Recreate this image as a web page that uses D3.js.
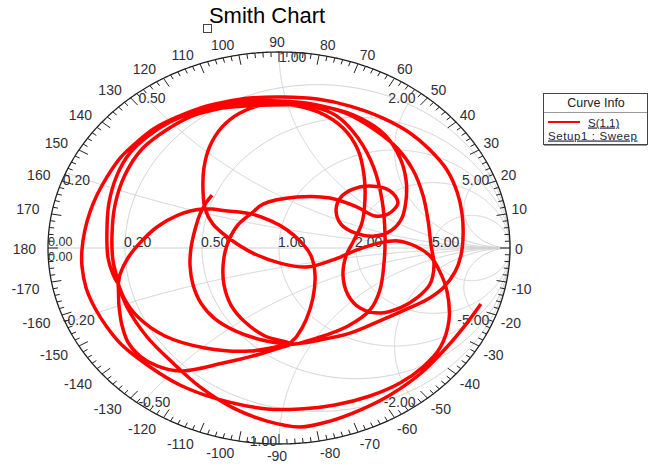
<!DOCTYPE html>
<html>
<head>
<meta charset="utf-8">
<script src="https://cdn.jsdelivr.net/npm/d3@7"></script>
<style>
  html, body { margin: 0; padding: 0; background: #fff; }
  svg { display: block; font-family: "Liberation Sans", Arial, sans-serif; }
</style>
</head>
<body>
<svg id="chart" width="649" height="466"></svg>
<script>
// ---- grid definitions ----
const resistanceValues = [0.2, 0.5, 1, 2, 5];
const resistanceLabels = ["0.20", "0.50", "1.00", "2.00", "5.00"];
const reactanceValues = [0.2, 0.5, 1, 2, 5, -0.2, -0.5, -1, -2, -5];
const reactanceLabels = ["0.20", "0.50", "1.00", "2.00", "5.00", "-0.20", "-0.50", "-1.00", "-2.00", "-5.00"];
const angleTicks = d3.range(-170, 181, 10);

// ---- legend text ----
const chartTitle = "Smith Chart";
const legendTitle = "Curve Info";
const traceName = "S(1,1)";
const sweepName = "Setup1 : Sweep";

// ---- S(1,1) reflection coefficient [Re, Im] along the sweep ----
const s11Gamma = [
  [-0.290,0.270],[-0.316,0.230],[-0.342,0.173],[-0.364,0.092],[-0.381,0.000],[-0.385,-0.092],
  [-0.372,-0.189],[-0.338,-0.281],[-0.277,-0.362],[-0.190,-0.423],[-0.074,-0.469],[0.048,-0.490],
  [0.177,-0.469],[0.307,-0.434],[0.424,-0.378],[0.545,-0.316],[0.645,-0.260],[0.710,-0.204],
  [0.762,-0.122],[0.788,-0.036],[0.797,0.066],[0.792,0.179],[0.771,0.286],[0.727,0.398],
  [0.654,0.500],[0.567,0.587],[0.450,0.663],[0.307,0.724],[0.165,0.760],[0.017,0.770],
  [-0.126,0.765],[-0.234,0.745],[-0.342,0.714],[-0.442,0.668],[-0.537,0.612],[-0.615,0.541],
  [-0.688,0.459],[-0.745,0.362],[-0.788,0.270],[-0.818,0.184],[-0.840,0.092],[-0.853,-0.010],
  [-0.853,-0.092],[-0.835,-0.204],[-0.797,-0.306],[-0.745,-0.403],[-0.680,-0.495],[-0.558,-0.607],
  [-0.429,-0.699],[-0.268,-0.770],[-0.052,-0.821],[0.091,-0.821],[0.242,-0.801],[0.394,-0.755],
  [0.524,-0.689],[0.623,-0.607],[0.697,-0.510],[0.736,-0.367],[0.727,-0.219],[0.697,-0.122],
  [0.654,-0.041],[0.589,0.010],[0.515,0.036],[0.437,0.026],[0.338,-0.010],[0.234,-0.061],
  [0.121,-0.097],[0.004,-0.077],[-0.113,-0.026],[-0.212,0.046],[-0.286,0.122],[-0.320,0.199],
  [-0.329,0.296],[-0.325,0.408],[-0.299,0.520],[-0.247,0.617],[-0.169,0.689],[-0.074,0.730],
  [0.048,0.735],[0.156,0.719],[0.251,0.673],[0.342,0.561],[0.411,0.408],[0.446,0.245],
  [0.459,0.066],[0.455,-0.071],[0.437,-0.214],[0.394,-0.316],[0.299,-0.398],[0.165,-0.459],
  [0.048,-0.490],
  [0.078,-0.449],[0.117,-0.367],[0.147,-0.255],[0.156,-0.138],[0.139,-0.041],[0.095,0.031],
  [0.035,0.092],[-0.035,0.138],[-0.117,0.173],[-0.221,0.189],[-0.333,0.199],[-0.437,0.168],
  [-0.528,0.107],[-0.602,0.026],[-0.654,-0.051],[-0.688,-0.133],[-0.697,-0.179],
  [-0.719,-0.133],[-0.740,-0.051],[-0.745,0.082],[-0.736,0.230],[-0.701,0.372],[-0.645,0.485],
  [-0.567,0.571],[-0.472,0.643],[-0.364,0.694],[-0.247,0.730],[-0.126,0.750],
  [0.004,0.750],[0.143,0.735],[0.286,0.689],[0.416,0.602],[0.511,0.510],[0.580,0.398],
  [0.623,0.270],[0.645,0.143],[0.658,0.015],[0.671,-0.087],
  [0.654,-0.184],[0.597,-0.255],[0.524,-0.306],[0.437,-0.332],[0.351,-0.306],[0.299,-0.240],
  [0.277,-0.138],[0.290,-0.041],[0.325,0.041],[0.359,0.128],[0.372,0.245],[0.368,0.372],
  [0.342,0.500],[0.277,0.612],[0.169,0.694],[0.026,0.735],[-0.126,0.740],
  [-0.247,0.714],[-0.364,0.679],[-0.481,0.607],[-0.593,0.505],[-0.667,0.372],[-0.710,0.219],
  [-0.723,0.066],[-0.719,-0.061],[-0.697,-0.179],
  [-0.693,-0.291],[-0.680,-0.393],[-0.654,-0.480],[-0.602,-0.551],[-0.528,-0.602],[-0.429,-0.628],
  [-0.242,-0.587],[-0.082,-0.541],[0.048,-0.490],
  [-0.126,-0.526],[-0.320,-0.510],[-0.494,-0.449],[-0.615,-0.347],[-0.671,-0.255],[-0.697,-0.179],
  [-0.671,-0.255],[-0.615,-0.347],[-0.494,-0.449],[-0.320,-0.510],[-0.126,-0.526],[0.048,-0.490],
  [-0.061,-0.449],[-0.147,-0.378],[-0.208,-0.291],[-0.238,-0.189],[-0.242,-0.087],[-0.225,0.015],
  [-0.182,0.112],[-0.117,0.179],[-0.069,0.224],
  [0.078,0.260],[0.221,0.255],[0.338,0.209],[0.416,0.163],
  [0.472,0.173],[0.515,0.230],[0.481,0.291],[0.394,0.316],[0.320,0.301],[0.268,0.260],
  [0.247,0.194],[0.268,0.122],[0.329,0.077],[0.416,0.061],[0.489,0.092],[0.532,0.153],[0.550,0.245],
  [0.550,0.347],[0.524,0.459],[0.459,0.577],[0.351,0.663],[0.221,0.714],[0.091,0.730],
  [-0.039,0.730],[-0.147,0.724],[-0.247,0.714],
  [-0.364,0.679],[-0.481,0.607],[-0.593,0.505],[-0.667,0.372],[-0.710,0.219],[-0.723,0.066],
  [-0.719,-0.061],[-0.697,-0.179],
  [-0.658,-0.301],[-0.571,-0.454],[-0.459,-0.587],[-0.342,-0.709],[-0.199,-0.816],[-0.052,-0.883],
  [0.091,-0.913],[0.221,-0.883],[0.351,-0.827],[0.481,-0.750],[0.610,-0.643],[0.727,-0.505],
  [0.810,-0.388],[0.874,-0.286]
];

// ---- layout ----
const svg = d3.select("#chart");
const x = d3.scaleLinear().domain([-1, 1]).range([48, 510]);
const y = d3.scaleLinear().domain([-1, 1]).range([444, 52]);
const toPath = d3.line().x(d => x(d[0])).y(d => y(d[1]));
const labelColor = "#2f2f3a";

// constant-resistance circle: z = r + jt
function resistanceCircle(r) {
  const c = r / (1 + r), R = 1 / (1 + r), pts = [];
  for (let i = 0; i <= 720; i++) {
    const a = i / 720 * 2 * Math.PI;
    pts.push([c + R * Math.cos(a), R * Math.sin(a)]);
  }
  return pts;
}
// constant-reactance arc: z = t + jx, t >= 0
function reactanceArc(xv) {
  const pts = [];
  for (let i = 0; i <= 600; i++) {
    const t = Math.tan(i / 600 * Math.PI / 2 * 0.9995);
    const D = (t + 1) * (t + 1) + xv * xv;
    pts.push([(t * t + xv * xv - 1) / D, 2 * xv / D]);
  }
  return pts;
}
function gammaAtZeroR(xv) {
  const D = 1 + xv * xv;
  return [(xv * xv - 1) / D, 2 * xv / D];
}

// grid
const grid = svg.append("g").attr("fill", "none").attr("stroke", "#d2d2d2").attr("stroke-width", 1);
resistanceValues.forEach(r => grid.append("path").attr("d", toPath(resistanceCircle(r))));
reactanceValues.forEach(v => grid.append("path").attr("d", toPath(reactanceArc(v))));
grid.append("line").attr("x1", x(-1)).attr("x2", x(1)).attr("y1", y(0)).attr("y2", y(0));

// outer boundary
svg.append("path").attr("d", toPath(resistanceCircle(0)))
  .attr("fill", "none").attr("stroke", "#222").attr("stroke-width", 1.3);

// angle ticks
const ticks = svg.append("g").attr("stroke", "#222").attr("stroke-width", 1);
d3.range(0, 360, 2).forEach(deg => {
  const th = deg * Math.PI / 180;
  const px = x(Math.cos(th)), py = y(Math.sin(th));
  const vx = x(0) - px, vy = y(0) - py, L = Math.hypot(vx, vy);
  const len = deg % 10 === 0 ? 10 : 5;
  ticks.append("line").attr("x1", px).attr("y1", py)
    .attr("x2", px + vx / L * len).attr("y2", py + vy / L * len);
});

// angle labels
const angG = svg.append("g").attr("font-size", "14px").attr("fill", labelColor);
angleTicks.forEach(a => {
  const th = a * Math.PI / 180, c = Math.cos(th), s = Math.sin(th);
  const px = x(c), py = y(s);
  let anchor, tx;
  if (Math.abs(c) < 0.01) { anchor = "middle"; tx = px - 2; }
  else if (c < 0) { anchor = "end"; tx = px + 9 * c - 3; }
  else { anchor = "start"; tx = px + 5 * c; }
  const sg = Math.abs(s) < 0.01 ? 0 : Math.sign(s);
  const ty = py - sg * 5 - 6 * s + 1.5;
  angG.append("text").attr("x", tx).attr("y", ty).attr("dy", "0.35em")
    .attr("text-anchor", anchor).text(String(a));
});

// resistance labels on the real axis
const gridLab = svg.append("g").attr("font-size", "14px").attr("fill", labelColor);
resistanceValues.forEach((r, i) => {
  gridLab.append("text").attr("x", x((r - 1) / (r + 1)) - 1).attr("y", y(0) - 1)
    .text(resistanceLabels[i]);
});
gridLab.append("text").attr("x", x(-1)).attr("y", y(0) - 2).attr("font-size", "12.5px").text("0.00");
gridLab.append("text").attr("x", x(-1)).attr("y", y(0) + 13).attr("font-size", "12.5px").text("0.00");

// reactance labels at the boundary
reactanceValues.forEach((v, i) => {
  const g = gammaAtZeroR(v);
  let anchor;
  if (g[0] < -0.01) anchor = "start";
  else if (g[0] > 0.01) anchor = "end";
  else anchor = v > 0 ? "start" : "end";
  const dx = Math.abs(g[0]) < 0.01 ? (v > 0 ? 0 : -2) : -2 - (Math.abs(v) === 0.2 || Math.abs(v) === 5 ? 1 : 0);
  const dy = v > 0 ? (Math.abs(v) === 1 ? 10 : 12) : 2;
  gridLab.append("text").attr("x", x(g[0]) + dx).attr("y", y(g[1]) + dy)
    .attr("text-anchor", anchor).text(reactanceLabels[i]);
});

// S(1,1) trace
svg.append("path").datum(s11Gamma)
  .attr("d", d3.line().x(d => x(d[0])).y(d => y(d[1])).curve(d3.curveCatmullRom.alpha(0.5)))
  .attr("fill", "none").attr("stroke", "#ff0000").attr("stroke-width", 3.5)
  .attr("stroke-linejoin", "round");

// title
svg.append("text").attr("x", 267).attr("y", 23).attr("text-anchor", "middle")
  .attr("font-size", "22px").attr("fill", "#000").text(chartTitle);
svg.append("rect").attr("x", 203.5).attr("y", 24.5).attr("width", 8).attr("height", 8)
  .attr("fill", "none").attr("stroke", "#444").attr("stroke-width", 1);

// legend
const lg = svg.append("g");
lg.append("rect").attr("x", 543.5).attr("y", 93.5).attr("width", 104).attr("height", 51)
  .attr("fill", "#fff").attr("stroke", "#444").attr("stroke-width", 1);
lg.append("line").attr("x1", 544).attr("x2", 647).attr("y1", 145.5).attr("y2", 145.5)
  .attr("stroke", "#999").attr("stroke-width", 1);
lg.append("line").attr("x1", 544).attr("x2", 647).attr("y1", 112.5).attr("y2", 112.5)
  .attr("stroke", "#9a9a9a").attr("stroke-width", 1);
lg.append("text").attr("x", 596).attr("y", 107).attr("text-anchor", "middle")
  .attr("font-size", "12.5px").attr("fill", "#222").text(legendTitle);
lg.append("line").attr("x1", 548).attr("x2", 580).attr("y1", 122).attr("y2", 122)
  .attr("stroke", "#ff0000").attr("stroke-width", 2);
lg.append("text").attr("x", 588).attr("y", 126.5).attr("font-size", "11.5px")
  .attr("fill", "#1e1e3c").attr("text-decoration", "underline").text(traceName);
lg.append("text").attr("x", 548).attr("y", 139.5).attr("font-size", "11.5px")
  .attr("letter-spacing", "0.6px")
  .attr("fill", "#1e1e3c").attr("text-decoration", "underline").text(sweepName);
</script>
</body>
</html>
